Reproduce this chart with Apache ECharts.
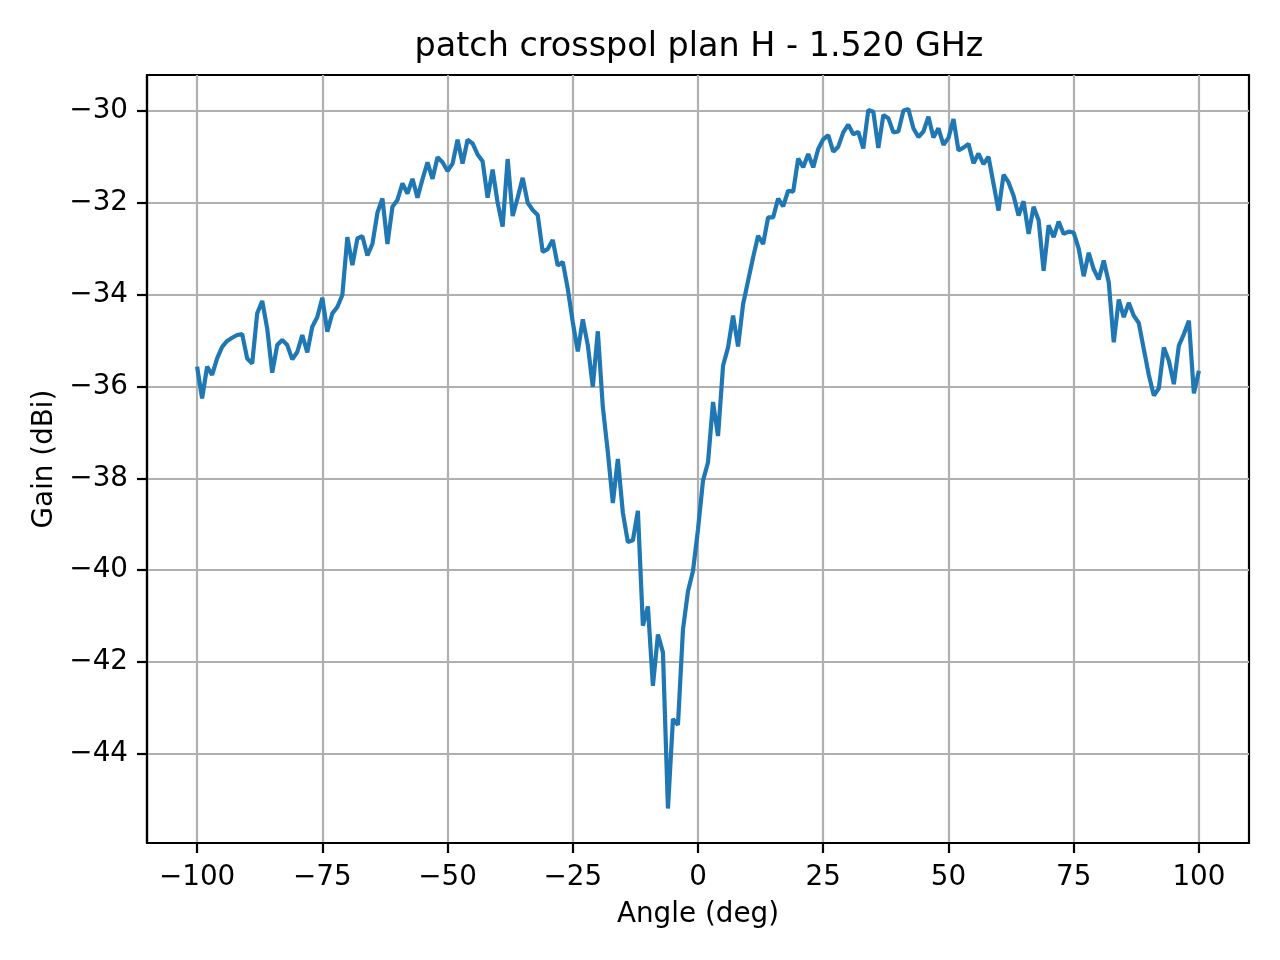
<!DOCTYPE html>
<html>
<head>
<meta charset="utf-8">
<script src="https://cdn.jsdelivr.net/npm/echarts@6/dist/echarts.min.js"></script>
<style>
  html, body { margin: 0; padding: 0; background: #fff; }
  #chart { width: 1280px; height: 960px; }
</style>
</head>
<body>
<div id="chart"></div>
<script>
// angle (deg), measured every degree
var angles = [
  -100,-99,-98,-97,-96,-95,-94,-93,-92,-91,-90,-89,-88,-87,-86,-85,-84,-83,-82,-81,
  -80,-79,-78,-77,-76,-75,-74,-73,-72,-71,-70,-69,-68,-67,-66,-65,-64,-63,-62,-61,
  -60,-59,-58,-57,-56,-55,-54,-53,-52,-51,-50,-49,-48,-47,-46,-45,-44,-43,-42,-41,
  -40,-39,-38,-37,-36,-35,-34,-33,-32,-31,-30,-29,-28,-27,-26,-25,-24,-23,-22,-21,
  -20,-19,-18,-17,-16,-15,-14,-13,-12,-11,-10,-9,-8,-7,-6,-5,-4,-3,-2,-1,
  0,1,2,3,4,5,6,7,8,9,10,11,12,13,14,15,16,17,18,19,
  20,21,22,23,24,25,26,27,28,29,30,31,32,33,34,35,36,37,38,39,
  40,41,42,43,44,45,46,47,48,49,50,51,52,53,54,55,56,57,58,59,
  60,61,62,63,64,65,66,67,68,69,70,71,72,73,74,75,76,77,78,79,
  80,81,82,83,84,85,86,87,88,89,90,91,92,93,94,95,96,97,98,99,
  100
];

// gain (dBi)
var gains = [
  -35.57,-36.26,-35.57,-35.75,-35.39,-35.14,-35.01,-34.94,-34.88,-34.86,
  -35.39,-35.50,-34.41,-34.14,-34.74,-35.70,-35.10,-34.99,-35.10,-35.41,
  -35.25,-34.88,-35.26,-34.70,-34.49,-34.07,-34.81,-34.41,-34.27,-34.01,
  -32.75,-33.36,-32.78,-32.73,-33.15,-32.90,-32.22,-31.91,-32.90,-32.09,
  -31.94,-31.58,-31.80,-31.48,-31.89,-31.49,-31.12,-31.48,-31.01,-31.12,
  -31.31,-31.15,-30.63,-31.15,-30.63,-30.71,-30.95,-31.10,-31.89,-31.28,
  -32.00,-32.52,-31.05,-32.29,-31.89,-31.46,-32.00,-32.16,-32.27,-33.07,
  -33.01,-32.81,-33.37,-33.29,-33.87,-34.60,-35.24,-34.54,-35.10,-36.01,
  -34.80,-36.45,-37.43,-38.54,-37.58,-38.75,-39.39,-39.35,-38.71,-41.21,
  -40.79,-42.52,-41.40,-41.79,-45.19,-43.24,-43.37,-41.29,-40.46,-40.02,
  -39.11,-38.05,-37.65,-36.34,-37.08,-35.55,-35.15,-34.46,-35.13,-34.21,
  -33.70,-33.19,-32.72,-32.90,-32.32,-32.32,-31.91,-32.08,-31.74,-31.76,
  -31.04,-31.23,-30.94,-31.23,-30.83,-30.62,-30.53,-30.89,-30.78,-30.47,
  -30.30,-30.51,-30.46,-30.82,-29.98,-30.02,-30.81,-30.09,-30.16,-30.47,
  -30.45,-30.00,-29.96,-30.38,-30.57,-30.45,-30.13,-30.58,-30.38,-30.74,
  -30.59,-30.18,-30.86,-30.80,-30.72,-31.14,-30.93,-31.16,-31.00,-31.59,
  -32.17,-31.39,-31.56,-31.85,-32.28,-31.97,-32.68,-32.09,-32.38,-33.48,
  -32.49,-32.75,-32.41,-32.68,-32.63,-32.65,-33.00,-33.60,-33.09,-33.45,
  -33.67,-33.26,-33.73,-35.04,-34.11,-34.49,-34.18,-34.46,-34.62,-35.19,
  -35.75,-36.20,-36.04,-35.15,-35.44,-35.95,-35.11,-34.86,-34.57,-36.15,
  -35.66
];

var xTicks = [-100, -75, -50, -25, 0, 25, 50, 75, 100];
var yTicks = [-44, -42, -40, -38, -36, -34, -32, -30];

var points = [];
for (var i = 0; i < angles.length; i++) {
  points.push([angles[i], gains[i]]);
}

function minus(v) {
  return String(v).replace('-', '\u2212');
}

var font = 'DejaVu Sans';
var myChart = echarts.init(document.getElementById('chart'));
myChart.setOption({
  animation: false,
  backgroundColor: '#fff',
  title: {
    text: 'patch crosspol plan H - 1.520 GHz',
    left: 694,
    textAlign: 'center',
    top: 26,
    textStyle: { fontFamily: font, fontSize: 33.4, fontWeight: 'normal', color: '#000' }
  },
  grid: {
    left: 147, right: 31, top: 75, bottom: 117,
    show: true, borderColor: '#000', borderWidth: 2.2, backgroundColor: 'transparent'
  },
  xAxis: {
    type: 'value',
    min: -110, max: 110,
    name: 'Angle (deg)',
    nameLocation: 'middle',
    nameGap: 58,
    nameTextStyle: { fontFamily: font, fontSize: 27.8, color: '#000' },
    axisLine: { show: true, onZero: false, lineStyle: { color: '#000', width: 2.2 } },
    axisTick: { show: true, inside: false, length: 10, customValues: xTicks,
      lineStyle: { color: '#000', width: 2.2 } },
    axisLabel: { customValues: xTicks, margin: 21, formatter: minus,
      fontFamily: font, fontSize: 27.8, color: '#000' },
    splitLine: { show: true, lineStyle: { color: '#b0b0b0', width: 2.2 } }
  },
  yAxis: {
    type: 'value',
    min: -45.94, max: -29.22,
    name: 'Gain (dBi)',
    nameLocation: 'middle',
    nameGap: 88,
    nameTextStyle: { fontFamily: font, fontSize: 27.8, color: '#000' },
    axisLine: { show: true, onZero: false, lineStyle: { color: '#000', width: 2.2 } },
    axisTick: { show: true, inside: false, length: 10, customValues: yTicks,
      lineStyle: { color: '#000', width: 2.2 } },
    axisLabel: { customValues: yTicks, margin: 19, formatter: minus,
      fontFamily: font, fontSize: 27.8, color: '#000' },
    splitLine: { show: true, lineStyle: { color: '#b0b0b0', width: 2.2 } }
  },
  series: [{
    type: 'line',
    data: points,
    showSymbol: false,
    lineStyle: { color: '#1f77b4', width: 4.2 },
    itemStyle: { color: '#1f77b4' }
  }]
});
</script>
</body>
</html>
